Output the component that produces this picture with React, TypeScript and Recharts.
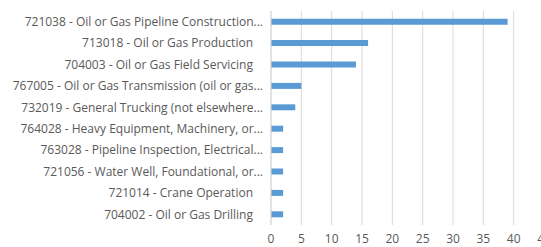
import { BarChart, Bar, XAxis, YAxis, CartesianGrid } from "recharts";

const categories = [
  "721038 - Oil or Gas Pipeline Construction...",
  "713018 - Oil or Gas Production",
  "704003 - Oil or Gas Field Servicing",
  "767005 - Oil or Gas Transmission (oil or gas...",
  "732019 - General Trucking (not elsewhere...",
  "764028 - Heavy Equipment, Machinery, or...",
  "763028 - Pipeline Inspection, Electrical...",
  "721056 - Water Well, Foundational, or...",
  "721014 - Crane Operation",
  "704002 - Oil or Gas Drilling",
];
const counts = [39, 16, 14, 5, 4, 2, 2, 2, 2, 2];
const xTicks = [0, 5, 10, 15, 20, 25, 30, 35, 40, 45];

const data = categories.map((name, i) => ({ name, value: counts[i] }));

const FONT = "'Open Sans', sans-serif";

function CategoryTick(props: any) {
  const { x, y, payload } = props;
  const label: string = payload.value;
  const shift = label.endsWith("...") ? 0 : -10;
  return (
    <text
      x={x + shift}
      y={y}
      dy="0.35em"
      textAnchor="end"
      fill="#595959"
      fontSize={12}
      fontFamily={FONT}
    >
      {label}
    </text>
  );
}

export default function App() {
  return (
    <div style={{ position: "fixed", left: 0, top: 0, width: 541, height: 247, background: "#fff" }}>
      <BarChart
        width={541}
        height={247}
        data={data}
        layout="vertical"
        margin={{ top: 11, right: -3, left: 0, bottom: 0 }}
        barCategoryGap="64%"
      >
        <CartesianGrid horizontal={false} stroke="#d9d9d9" />
        <XAxis
          type="number"
          domain={[0, 45]}
          ticks={xTicks}
          interval={0}
          axisLine={false}
          tickLine={false}
          tickMargin={3}
          height={22}
          tick={{ fill: "#595959", fontSize: 12, fontFamily: FONT }}
        />
        <YAxis
          type="category"
          dataKey="name"
          width={271}
          axisLine={{ stroke: "#d9d9d9" }}
          tickLine={false}
          tick={<CategoryTick />}
          interval={0}
        />
        <Bar dataKey="value" fill="#5b9bd5" isAnimationActive={false} />
      </BarChart>
    </div>
  );
}
